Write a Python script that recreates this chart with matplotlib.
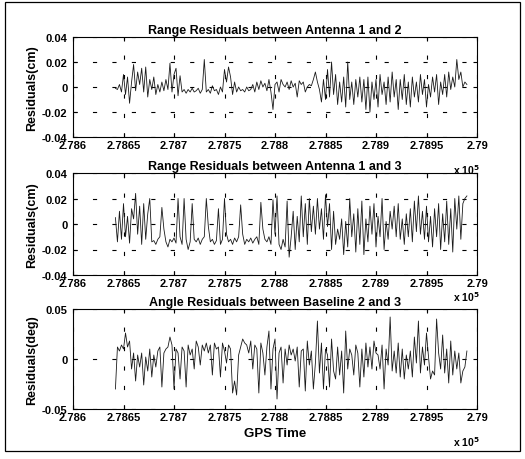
import numpy as np
import matplotlib
matplotlib.use("Agg")
import matplotlib.pyplot as plt
from matplotlib.patches import Rectangle

plt.rcParams['font.family'] = ['Liberation Sans', 'DejaVu Sans']
plt.rcParams['font.weight'] = 'bold'
plt.rcParams['lines.scale_dashes'] = False

# GPS time sampling (x 10^5 s)
t_start = 2.78642
t_end = 2.78990

titles = ["Range Residuals between Antenna 1 and 2",
          "Range Residuals between Antenna 1 and 3",
          "Angle Residuals between Baseline 2 and 3"]
ylabels = ["Residuals(cm)", "Residuals(cm)", "Residuals(deg)"]
xticks = [2.786, 2.7865, 2.787, 2.7875, 2.788, 2.7885, 2.789, 2.7895, 2.79]
xticklabels = ["2.786", "2.7865", "2.787", "2.7875", "2.788", "2.7885", "2.789", "2.7895", "2.79"]
yticks_range = [-0.04, -0.02, 0, 0.02, 0.04]
yticklabels_range = ["-0.04", "-0.02", "0", "0.02", "0.04"]
yticks_angle = [-0.05, 0, 0.05]
yticklabels_angle = ["-0.05", "0", "0.05"]

res12 = [
    -0.001, -0.002, 0.002, -0.004, 0.010, -0.006, 0.008, -0.013, 0.004, 0.018,
    -0.003, 0.012, 0.002, 0.015, -0.004, 0.016, -0.008, 0.006, -0.002, 0.008,
    -0.006, 0.002, -0.004, 0.004, -0.003, 0.006, -0.002, 0.019, -0.004, 0.010,
    0.015, -0.007, 0.009, -0.004, -0.002, -0.005, -0.002, -0.004, -0.001, -0.004,
    -0.003, -0.001, -0.005, -0.002, 0.022, -0.004, -0.002, -0.005, 0.001, -0.003,
    -0.002, -0.006, 0.000, -0.004, 0.014, 0.004, 0.016, 0.008, -0.006, 0.004,
    -0.004, 0.000, -0.003, -0.002, -0.004, 0.000, -0.003, -0.002, 0.002, -0.004,
    0.004, -0.002, 0.005, 0.000, 0.003, -0.003, 0.006, -0.004, -0.018, 0.002,
    0.004, -0.004, 0.006, 0.002, 0.000, 0.004, -0.002, 0.005, 0.000, 0.003,
    -0.008, 0.005, 0.002, 0.004, -0.004, 0.000, 0.002, 0.001, 0.006, 0.012,
    0.004, -0.002, -0.012, 0.006, -0.010, 0.014, -0.008, 0.020, -0.006, 0.010,
    -0.014, 0.004, -0.012, 0.008, -0.016, 0.020, -0.010, 0.004, -0.014, 0.006,
    -0.008, 0.008, -0.012, 0.006, -0.018, 0.008, -0.020, 0.004, -0.010, 0.006,
    -0.016, 0.010, -0.006, 0.004, -0.014, 0.008, -0.012, 0.012, -0.008, 0.006,
    -0.018, 0.006, -0.010, 0.010, -0.014, 0.004, -0.016, 0.008, -0.008, 0.004,
    -0.012, 0.010, -0.006, 0.006, -0.016, 0.002, -0.008, 0.008, -0.004, 0.010,
    -0.014, 0.004, -0.006, 0.010, -0.008, 0.012, -0.002, 0.008, 0.000, 0.022,
    0.006, 0.012, 0.000, 0.004, 0.002,
]

res13 = [
    0.005, -0.014, 0.010, -0.012, 0.016, -0.010, 0.006, -0.015, 0.012, 0.004,
    0.024, -0.008, 0.014, -0.016, 0.016, -0.012, 0.008, 0.020, -0.014, -0.013,
    -0.016, -0.012, -0.010, 0.013, -0.004, -0.014, -0.018, -0.012, -0.014, -0.011,
    -0.015, 0.020, -0.010, -0.016, 0.020, -0.012, -0.020, -0.014, 0.016, -0.012,
    -0.014, -0.011, -0.016, -0.012, -0.010, 0.020, -0.002, -0.014, -0.012, -0.016,
    -0.013, 0.012, -0.016, -0.012, 0.020, -0.008, -0.014, -0.012, -0.016, -0.011,
    -0.014, -0.010, 0.015, -0.008, -0.016, -0.012, -0.014, -0.011, -0.015, -0.012,
    -0.010, -0.016, 0.017, -0.004, -0.012, -0.014, -0.010, -0.016, 0.019, -0.008,
    0.022, -0.016, -0.020, -0.012, -0.018, 0.018, -0.026, -0.010, 0.010, -0.020,
    0.006, -0.014, 0.022, -0.010, 0.016, -0.016, 0.020, -0.006, 0.014, -0.008,
    0.020, -0.004, 0.012, -0.012, 0.023, -0.002, 0.016, -0.020, 0.010, -0.016,
    -0.004, -0.012, 0.004, -0.024, 0.002, -0.018, 0.020, -0.010, 0.008, -0.022,
    0.012, -0.016, 0.018, -0.024, 0.004, -0.014, 0.014, -0.008, 0.016, -0.018,
    0.006, -0.010, 0.020, -0.020, 0.002, -0.012, 0.010, -0.004, 0.014, -0.010,
    0.016, -0.012, 0.004, -0.016, 0.008, -0.010, 0.012, -0.014, 0.018, -0.006,
    0.022, -0.008, 0.010, -0.012, 0.014, -0.014, 0.006, -0.018, 0.012, -0.010,
    0.016, -0.020, 0.008, -0.014, 0.018, -0.016, 0.012, -0.022, 0.020, -0.004,
    0.022, -0.012, 0.016, 0.020, 0.022,
]

ang23 = [
    -0.030, 0.012, 0.008, 0.014, 0.010, 0.026, 0.012, 0.018, -0.010, 0.006,
    -0.022, 0.004, -0.008, 0.006, -0.026, 0.002, -0.012, 0.010, -0.018, 0.004,
    -0.008, 0.008, 0.012, -0.028, 0.006, 0.010, 0.012, 0.022, 0.014, -0.030,
    0.010, 0.006, -0.020, 0.012, 0.008, -0.028, 0.014, 0.004, 0.010, -0.010,
    0.018, 0.012, -0.006, 0.014, 0.008, 0.016, 0.006, 0.014, -0.016, 0.016,
    0.010, 0.012, -0.018, 0.016, 0.008, -0.004, 0.014, 0.010, -0.034, -0.022,
    -0.036, 0.004, 0.012, 0.020, 0.016, 0.014, 0.006, 0.018, -0.010, 0.014,
    0.010, -0.034, 0.016, 0.006, -0.016, 0.012, 0.028, -0.030, 0.010, 0.020,
    -0.040, 0.006, 0.012, -0.024, 0.010, -0.006, 0.014, 0.004, 0.010, -0.002,
    0.012, -0.028, 0.008, 0.010, -0.032, 0.018, -0.006, 0.008, -0.030, -0.004,
    0.038, -0.014, 0.016, -0.030, 0.010, 0.004, -0.028, 0.020, -0.012, -0.020,
    0.012, -0.016, 0.008, -0.034, 0.028, -0.010, 0.010, 0.004, -0.016, 0.014,
    0.006, -0.028, 0.010, -0.018, 0.016, -0.008, 0.012, -0.010, 0.018, 0.006,
    0.004, -0.010, 0.014, -0.030, 0.010, -0.006, 0.042, -0.012, 0.008, -0.014,
    0.016, -0.018, 0.010, -0.020, 0.004, -0.010, 0.008, -0.018, 0.022, -0.004,
    0.038, -0.014, 0.012, -0.006, 0.026, 0.002, -0.020, -0.012, -0.016, 0.040,
    0.006, -0.010, 0.024, -0.014, 0.010, -0.024, 0.018, -0.016, 0.008, -0.010,
    0.006, -0.024, -0.012, -0.008, 0.008,
]

series = [res12, res13, ang23]

W, H = 525, 460
fig = plt.figure(figsize=(W / 100, H / 100), dpi=100)
fig.patch.set_facecolor('white')

# axes boxes in pixel coordinates: (left, top, right, bottom)
boxes = [(73, 38, 477, 138), (73, 174, 477, 276), (73, 310, 477, 410)]
exp_offsets = [32, 21, 32]

grid_kw = dict(color='black', linewidth=0.8, linestyle=(0, (3, 11)))

for k, (l, t, r, b) in enumerate(boxes):
    ax = fig.add_axes([l / W, 1 - b / H, (r - l) / W, (b - t) / H])
    y = series[k]
    x = np.linspace(t_start, t_end, len(y))
    ax.plot(x, y, color='#1a1a1a', linewidth=0.6)
    ax.set_xlim(2.786, 2.79)
    ax.set_xticks(xticks)
    ax.set_xticklabels(xticklabels)
    if k < 2:
        ax.set_ylim(-0.04, 0.04)
        ax.set_yticks(yticks_range)
        ax.set_yticklabels(yticklabels_range)
    else:
        ax.set_ylim(-0.05, 0.05)
        ax.set_yticks(yticks_angle)
        ax.set_yticklabels(yticklabels_angle)
    ax.grid(True, **grid_kw)
    ax.tick_params(direction='in', length=3, width=0.8, top=True, right=True,
                   labelsize=8)
    ax.tick_params(axis='x', pad=2.5)
    ax.tick_params(axis='y', pad=4)
    for lab in ax.get_xticklabels() + ax.get_yticklabels():
        lab.set_fontweight('bold')
    for s in ax.spines.values():
        s.set_linewidth(0.8)
    ax.set_title(titles[k], fontsize=9, fontweight='bold', pad=3)
    ax.set_ylabel(ylabels[k], fontsize=9, fontweight='bold')
    ax.yaxis.set_label_coords((38 - l) / (r - l), 0.5)
    fig.text(466 / W, 1 - (b + exp_offsets[k]) / H, r"x 10$^{5}$", fontsize=7.5,
             fontweight='bold', ha='center', va='center')
    if k == 2:
        ax.set_xlabel("GPS Time", fontsize=9.5, fontweight='bold', labelpad=3)

# scanned frame around the figure
fig.add_artist(Rectangle((5 / W, 1 - 452 / H), (520 - 5) / W, (452 - 3) / H,
                         transform=fig.transFigure, fill=False, edgecolor='black',
                         linewidth=0.9))

fig.savefig("out.png", dpi=100)
